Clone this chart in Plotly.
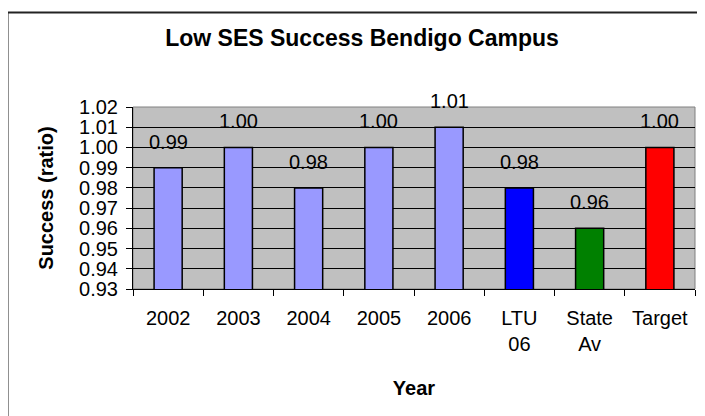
import plotly.graph_objects as go

categories = ["2002", "2003", "2004", "2005", "2006", "LTU<br>06", "State<br>Av", "Target"]
success = [0.99, 1.00, 0.98, 1.00, 1.01, 0.98, 0.96, 1.00]
bar_colors = ["#9999FF", "#9999FF", "#9999FF", "#9999FF", "#9999FF", "#0000FF", "#008000", "#FF0000"]

# page pixels of the original; the html body adds an 8px offset
OFF = 8
W, H = 705, 416
L, R, T, B = 133 - OFF, 695 - OFF, 107 - OFF, 289 - OFF   # plot area in figure pixels

def px(x):
    return (x - OFF - L) / (R - L)

def py(y):
    return (B - (y - OFF)) / (B - T)

font = "Liberation Sans, Arial, sans-serif"

fig = go.Figure()
fig.add_trace(go.Bar(
    x=categories, y=success,
    marker=dict(color=bar_colors, line=dict(color="black", width=1.5)),
    width=0.4,
    hoverinfo="x+y",
))

# value labels sit well above the bar tops, as in the original
for i, v in enumerate(success):
    fig.add_annotation(x=i, y=v, text=f"{v:.2f}", showarrow=False,
                       yanchor="bottom", yshift=13,
                       font=dict(size=20, color="black", family=font))

fig.update_layout(
    width=W, height=H,
    margin=dict(l=L, r=W - R, t=T, b=H - B, autoexpand=False),
    plot_bgcolor="#C0C0C0",
    paper_bgcolor="white",
    showlegend=False,
    font=dict(family=font, size=20, color="black"),
    title=dict(text="<b>Low SES Success Bendigo Campus</b>", x=px(362), xref="paper",
               xanchor="center", y=1 - (38 - OFF) / H, yanchor="middle",
               font=dict(size=23, color="black", family=font)),
    shapes=[
        dict(type="rect", xref="paper", yref="paper", x0=0, x1=1, y0=0, y1=1,
             line=dict(color="#808080", width=1), layer="below"),
        dict(type="rect", xref="paper", yref="paper", x0=px(7.5), x1=px(730), y0=py(440), y1=py(12.5),
             line=dict(color="#222222", width=2)),
    ],
)

fig.update_xaxes(
    type="category",
    automargin=False,
    showline=True, linecolor="black", linewidth=1,
    ticks="outside", tickson="boundaries", ticklen=6, tickcolor="black",
    ticklabelstandoff=11,
    tickfont=dict(size=20),
    title=dict(text="<b>Year</b>", font=dict(size=20), standoff=26),
)
fig.update_yaxes(
    automargin=False,
    range=[0.93, 1.02], dtick=0.01, tickformat=".2f",
    showline=True, linecolor="black", linewidth=1,
    ticks="outside", ticklen=6, tickcolor="black",
    ticklabelstandoff=4,
    showgrid=True, gridcolor="black", gridwidth=1,
    tickfont=dict(size=20),
    title=dict(text="<b>Success (ratio)</b>", font=dict(size=20), standoff=20),
    zeroline=False,
)

fig.write_html("out.html")
